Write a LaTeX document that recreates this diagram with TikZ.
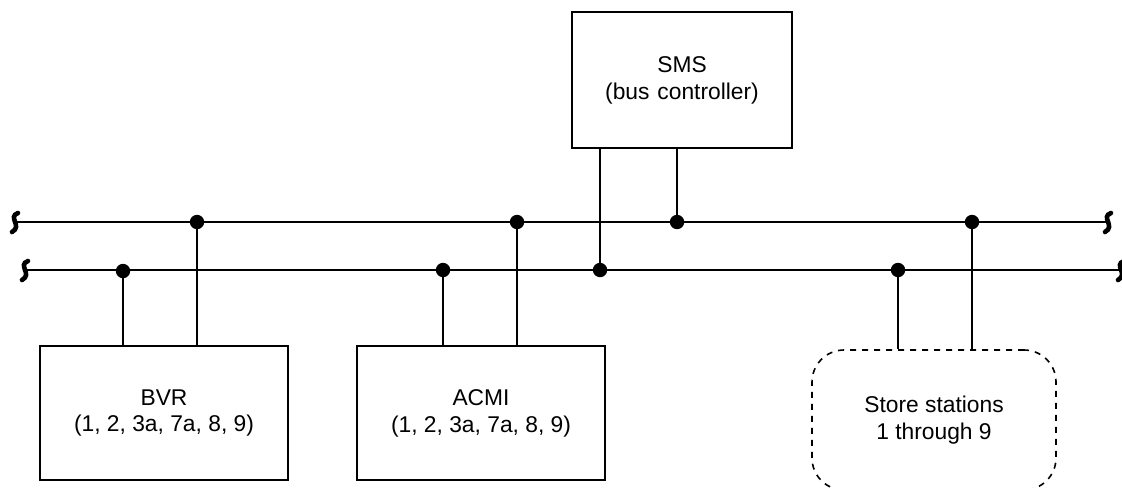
\documentclass[tikz,border=0pt]{standalone}
\usepackage{fontspec}
\setmainfont{Liberation Sans}
\usepackage{tikz}
\usetikzlibrary{positioning}

\begin{document}
\begin{tikzpicture}[x=0.5pt,y=-0.5pt,font=\fontsize{11.4}{13.4}\selectfont,
    unit/.style={draw,line width=0.8pt,align=center,minimum width=124pt,minimum height=67pt},
    store/.style={unit,dashed,dash pattern=on 3pt off 3pt,rounded corners=16pt},
    bus/.style={line width=1pt},
    tap/.style={line width=1pt},
    brk/.style={line width=2.3pt,line cap=round}]
  \useasboundingbox (0,0) rectangle (1122,487);
  % units
  \node[unit,minimum width=110pt,minimum height=68pt] (sms) at (682,80) {SMS\\(bus\hspace{0.35em}controller)};
  \node[unit] (bvr) at (164,413) {BVR\\(1, 2, 3a, 7a, 8, 9)};
  \node[unit] (acmi) at (481,413) {ACMI\\(1, 2, 3a, 7a, 8, 9)};
  \node[store,minimum width=122pt,minimum height=70pt] (sta) at (934,420) {Store stations\\1 through 9};
  % bus ends
  \coordinate (a1) at (15,222);   \coordinate (a2) at (1108,222);
  \coordinate (b1) at (25,270);   \coordinate (b2) at (1121,270);
  \draw[bus] (a1) -- (a2);
  \draw[bus] (b1) -- (b2);
  \foreach \p in {a1,a2,b1,b2}
    \draw[brk] ([shift={(3,-9)}]\p) .. controls ([shift={(-8,-5)}]\p) and ([shift={(8,4)}]\p) .. ([shift={(-3,10)}]\p);
  % taps
  \coordinate (t1) at (123,271);  \coordinate (t2) at (197,222);
  \coordinate (t3) at (443,270);  \coordinate (t4) at (517,222);
  \coordinate (t5) at (600,270);  \coordinate (t6) at (677,222);
  \coordinate (t7) at (898,270);  \coordinate (t8) at (972,222);
  \draw[tap] (t1) -- (t1 |- bvr.north);
  \draw[tap] (t2) -- (t2 |- bvr.north);
  \draw[tap] (t3) -- (t3 |- acmi.north);
  \draw[tap] (t4) -- (t4 |- acmi.north);
  \draw[tap] (t5) -- (t5 |- sms.south);
  \draw[tap] (t6) -- (t6 |- sms.south);
  \draw[tap] (t7) -- (t7 |- sta.north);
  \draw[tap] (t8) -- (t8 |- sta.north);
  \foreach \t in {t1,t2,t3,t4,t5,t6,t7,t8}
    \fill (\t) circle (3.6pt);
\end{tikzpicture}
\end{document}
